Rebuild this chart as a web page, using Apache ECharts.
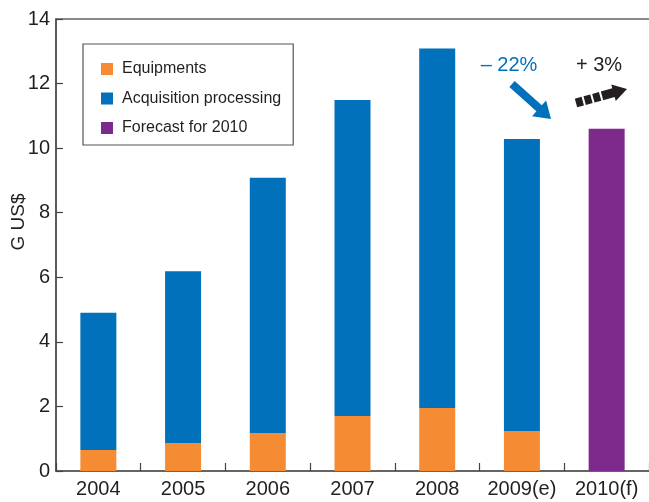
<!DOCTYPE html>
<html>
<head>
<meta charset="utf-8">
<title>Market size</title>
<script src="https://cdn.jsdelivr.net/npm/echarts@6/dist/echarts.min.js"></script>
<style>
  html, body { margin: 0; padding: 0; background: #fff; }
  #chart { width: 649px; height: 502px; }
</style>
</head>
<body>
<div id="chart"></div>
<script>
// Market value by year, G US$
const years = ['2004', '2005', '2006', '2007', '2008', '2009(e)', '2010(f)'];
const equipments = [0.65, 0.87, 1.18, 1.70, 1.95, 1.24, null];
const acquisitionProcessing = [4.25, 5.32, 7.90, 9.79, 11.14, 9.04, null];
const forecast2010 = [null, null, null, null, null, null, 10.6];
const yTicks = [0, 2, 4, 6, 8, 10, 12, 14];

const FONT = '"Liberation Sans", Arial, Helvetica, sans-serif';
const INK = '#231F20';
const ORANGE = '#F58C33';
const BLUE = '#0071BA';
const PURPLE = '#7E2A8D';

// Polygon for a block arrow between two points
function arrowShape(x1, y1, x2, y2, shaftW, headW, headL) {
  const dx = x2 - x1, dy = y2 - y1;
  const len = Math.hypot(dx, dy);
  const ux = dx / len, uy = dy / len;
  const nx = -uy, ny = ux;
  const bx = x2 - ux * headL, by = y2 - uy * headL;
  const s = shaftW / 2, h = headW / 2;
  return [
    [x1 + nx * s, y1 + ny * s],
    [bx + nx * s, by + ny * s],
    [bx + nx * h, by + ny * h],
    [x2, y2],
    [bx - nx * h, by - ny * h],
    [bx - nx * s, by - ny * s],
    [x1 - nx * s, y1 - ny * s]
  ];
}
function segmentShape(x1, y1, x2, y2, w) {
  const dx = x2 - x1, dy = y2 - y1;
  const len = Math.hypot(dx, dy);
  const nx = -dy / len * w / 2, ny = dx / len * w / 2;
  return [[x1 + nx, y1 + ny], [x2 + nx, y2 + ny], [x2 - nx, y2 - ny], [x1 - nx, y1 - ny]];
}

// Dashed trend arrow: short dashes along the shaft, then a solid head
function dashedArrow(x1, y1, x2, y2, color) {
  const dx = x2 - x1, dy = y2 - y1;
  const len = Math.hypot(dx, dy);
  const ux = dx / len, uy = dy / len;
  const pieces = [[0, 7], [9, 16], [18, 25]];
  const out = pieces.map(([a, b]) => ({
    type: 'polygon',
    shape: { points: segmentShape(x1 + ux * a, y1 + uy * a, x1 + ux * b, y1 + uy * b, 9) },
    style: { fill: color }
  }));
  const sx = x1 + ux * 27, sy = y1 + uy * 27;
  out.push({
    type: 'polygon',
    shape: { points: arrowShape(sx, sy, x2, y2, 9, 17, 14) },
    style: { fill: color }
  });
  return out;
}

const chart = echarts.init(document.getElementById('chart'), null, { renderer: 'canvas' });

const barBase = { type: 'bar', stack: 'total', barWidth: 36, emphasis: { disabled: true } };

chart.setOption({
  animation: false,
  textStyle: { fontFamily: FONT },
  grid: { left: 56, right: 0, top: 19, bottom: 31, containLabel: false },
  legend: {
    orient: 'vertical',
    left: 83,
    top: 44,
    padding: [17, 12, 9, 18],
    itemGap: 13.5,
    itemWidth: 12,
    itemHeight: 12,
    icon: 'rect',
    borderColor: '#555',
    borderWidth: 1.2,
    textStyle: { fontFamily: FONT, fontSize: 16, color: INK, padding: [0, 0, 0, 4] },
    selectedMode: false,
    data: ['Equipments', 'Acquisition processing', 'Forecast for 2010']
  },
  xAxis: [
    {
      type: 'category',
      data: years,
      position: 'bottom',
      axisLine: { lineStyle: { color: '#333', width: 1.6 } },
      axisTick: { show: true, inside: true, length: 8, alignWithLabel: false, interval: 0, lineStyle: { color: '#444', width: 1.2 } },
      axisLabel: { interval: 0, margin: 8, fontSize: 20, color: INK, fontFamily: FONT }
    },
    {
      type: 'category',
      data: years,
      position: 'top',
      axisLine: { show: true, lineStyle: { color: '#666', width: 1.6 } },
      axisTick: { show: false },
      axisLabel: { show: false }
    }
  ],
  yAxis: {
    type: 'value',
    min: yTicks[0],
    max: yTicks[yTicks.length - 1],
    interval: 2,
    axisLine: { show: true, lineStyle: { color: '#333', width: 1.6 } },
    axisTick: { show: true, inside: true, length: 7, lineStyle: { color: '#444', width: 1.2 } },
    axisLabel: { margin: 6, fontSize: 20, color: INK, fontFamily: FONT },
    splitLine: { show: false }
  },
  series: [
    Object.assign({}, barBase, { name: 'Equipments', data: equipments, itemStyle: { color: ORANGE } }),
    Object.assign({}, barBase, { name: 'Acquisition processing', data: acquisitionProcessing, itemStyle: { color: BLUE } }),
    Object.assign({}, barBase, { name: 'Forecast for 2010', data: forecast2010, itemStyle: { color: PURPLE } })
  ],
  graphic: [
    {
      type: 'text',
      x: 19, y: 222,
      rotation: Math.PI / 2,
      style: { text: 'G US$', font: '19px ' + FONT, fill: INK, align: 'center', verticalAlign: 'middle' }
    },
    {
      type: 'text',
      x: 509, y: 65,
      style: { text: '\u2013 22%', font: '20px ' + FONT, fill: BLUE, align: 'center', verticalAlign: 'middle' }
    },
    {
      type: 'text',
      x: 599, y: 65,
      style: { text: '+ 3%', font: '20px ' + FONT, fill: INK, align: 'center', verticalAlign: 'middle' }
    },
    {
      type: 'polygon',
      shape: { points: arrowShape(512, 84, 551, 119, 8, 21, 16) },
      style: { fill: BLUE }
    }
  ].concat(dashedArrow(576, 103, 627, 89, INK))
});
</script>
</body>
</html>
